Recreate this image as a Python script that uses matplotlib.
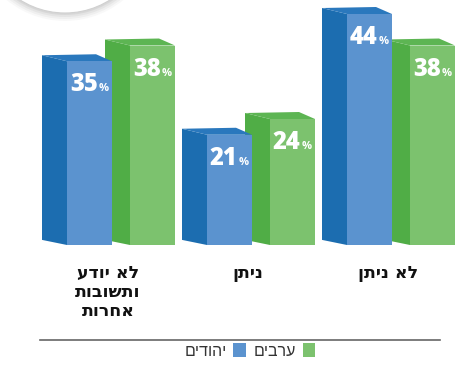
import matplotlib
matplotlib.use("Agg")
import matplotlib.pyplot as plt
from matplotlib.patches import Polygon, Circle, Patch
from matplotlib.lines import Line2D

# ---- data ----
categories = ["לא יודע\nותשובות\nאחרות", "ניתן", "לא ניתן"]
jews = [35, 21, 44]
arabs = [38, 24, 38]
series_names = ["יהודים", "ערבים"]

# ---- style ----
BLUE_FRONT, BLUE_SIDE, BLUE_TOP = "#5b93cf", "#1c6db0", "#2a78bd"
GREEN_FRONT, GREEN_SIDE, GREEN_TOP = "#7cc26e", "#50ad46", "#5db553"

W, H = 465, 369
PX = 140.0   # pixels per category
PY = 5.25    # pixels per percent


def vis(s):
    """Visual (left-to-right) order for Hebrew lines."""
    return "\n".join(line[::-1] for line in s.split("\n"))


fig = plt.figure(figsize=(W / 100, H / 100), dpi=100)
ax = fig.add_axes([0, 0, 1, 1])
ax.set_xlim(-121 / PX, (W - 121) / PX)
ax.set_ylim(-124 / PY, (H - 124) / PY)
ax.axis("off")

# decorative circle (top-left)
ccx, ccy, r = 65, H + 71, 84
for k, a in enumerate([0.05, 0.07, 0.09, 0.12]):
    rr = r + 8 - 2 * k
    fig.patches.append(Circle((ccx, ccy), rr, transform=None,
                              facecolor="#808080", edgecolor="none", alpha=a))
fig.patches.append(Circle((ccx, ccy), r, transform=None,
                          facecolor="white", edgecolor="#d0d0d0", lw=0.8))


def box(xl, xr, h, front, side, top, depth=25, rise=6, back_r=16, top_rise=7):
    dx, dy = depth / PX, rise / PY
    bdx, tdy = back_r / PX, top_rise / PY
    ax.add_patch(Polygon([(xl, 0), (xl, h), (xl - dx, h + dy), (xl - dx, dy * 0.85)],
                         closed=True, facecolor=side, edgecolor="none"))
    ax.add_patch(Polygon([(xl, h), (xr, h), (xr - bdx, h + tdy), (xl - dx, h + dy)],
                         closed=True, facecolor=top, edgecolor="none"))
    ax.add_patch(Polygon([(xl, 0), (xr, 0), (xr, h), (xl, h)],
                         closed=True, facecolor=front, edgecolor="none"))


def value_label(xl, xr, h):
    c = (xl + xr) / 2 + 8 / PX
    yb = h - 30 / PY
    ax.text(c, yb, f"{h}", ha="right", va="baseline", color="white",
            fontsize=17, fontweight="heavy", family="Open Sans")
    ax.text(c + 1 / PX, yb, "%", ha="left", va="baseline", color="white",
            fontsize=8, fontweight="bold", family="Open Sans")


for i, (j, a) in enumerate(zip(jews, arabs)):
    bl, br = i - 54 / PX, i - 9 / PX
    gl, gr = i + 9 / PX, i + 54 / PX
    box(gl, gr, a, GREEN_FRONT, GREEN_SIDE, GREEN_TOP)
    box(bl, br, j, BLUE_FRONT, BLUE_SIDE, BLUE_TOP)
    value_label(bl, br, j)
    value_label(gl, gr, a)
    ax.text(i - 13 / PX, -19 / PY, vis(categories[i]), ha="center", va="top",
            fontsize=12.5, fontweight="bold", family="DejaVu Sans",
            linespacing=1.08, color="#111111", multialignment="center")

# separator line
fig.add_artist(Line2D([40 / W, 440 / W], [1 - 340 / H, 1 - 340 / H],
                      color="#666666", lw=1.2))

# legend
handles = [Patch(facecolor=BLUE_FRONT, edgecolor="none", label=vis(series_names[0])),
           Patch(facecolor=GREEN_FRONT, edgecolor="none", label=vis(series_names[1]))]
fig.legend(handles=handles, loc="center", bbox_to_anchor=(250 / W, 1 - 351 / H),
           ncol=2, frameon=False, markerfirst=False, handlelength=0.8,
           handleheight=0.9, handletextpad=0.4, columnspacing=0.5,
           prop={"family": "Liberation Sans", "size": 11.5}, labelcolor="#333333")

fig.savefig("out.png", dpi=100)
